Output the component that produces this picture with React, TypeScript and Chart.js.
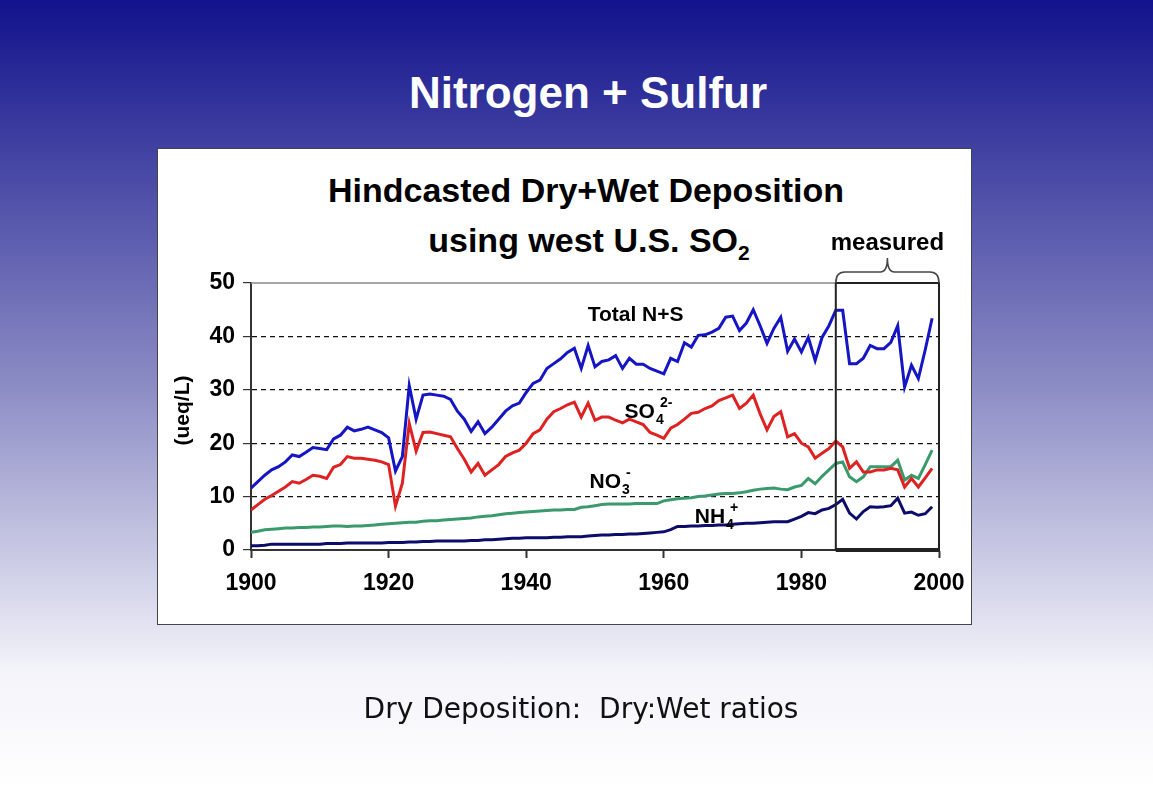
import React, { useEffect, useRef } from "react";
import { Chart, registerables } from "chart.js";

Chart.register(...registerables);

// ---------- data ----------
const years = [
  1900, 1901, 1902, 1903, 1904, 1905, 1906, 1907, 1908, 1909,
  1910, 1911, 1912, 1913, 1914, 1915, 1916, 1917, 1918, 1919,
  1920, 1921, 1922, 1923, 1924, 1925, 1926, 1927, 1928, 1929,
  1930, 1931, 1932, 1933, 1934, 1935, 1936, 1937, 1938, 1939,
  1940, 1941, 1942, 1943, 1944, 1945, 1946, 1947, 1948, 1949,
  1950, 1951, 1952, 1953, 1954, 1955, 1956, 1957, 1958, 1959,
  1960, 1961, 1962, 1963, 1964, 1965, 1966, 1967, 1968, 1969,
  1970, 1971, 1972, 1973, 1974, 1975, 1976, 1977, 1978, 1979,
  1980, 1981, 1982, 1983, 1984, 1985, 1986, 1987, 1988, 1989,
  1990, 1991, 1992, 1993, 1994, 1995, 1996, 1997, 1998, 1999,
];

const totalNS = [
  11.6, 12.8, 14.0, 15.0, 15.6, 16.5, 17.8, 17.5, 18.3, 19.2,
  19.0, 18.8, 20.8, 21.5, 23.0, 22.3, 22.6, 23.0, 22.5, 22.0,
  21.0, 14.8, 17.5, 30.8, 24.5, 29.0, 29.2, 29.0, 28.8, 28.2,
  26.0, 24.5, 22.2, 24.0, 21.8, 23.0, 24.5, 26.0, 27.0, 27.5,
  29.5, 31.2, 31.8, 34.0, 34.9, 35.8, 37.0, 37.8, 34.0, 38.3,
  34.3, 35.3, 35.6, 36.4, 34.0, 35.9, 34.8, 34.8, 34.0, 33.5,
  33.0, 35.9, 35.3, 38.8, 38.0, 40.2, 40.3, 40.8, 41.5, 43.6,
  43.8, 41.1, 42.5, 45.0, 42.0, 38.7, 41.5, 43.6, 37.2, 39.5,
  37.1, 39.8, 35.5, 39.8, 42.0, 44.9, 44.9, 34.9, 34.9, 35.9,
  38.3, 37.7, 37.7, 38.9, 42.0, 30.5, 34.6, 32.1, 37.5, 43.4,
];

const so4 = [
  7.5, 8.5, 9.5, 10.2, 11.0, 11.8, 12.8, 12.5, 13.2, 14.0,
  13.8, 13.4, 15.5, 16.0, 17.5, 17.2, 17.2, 17.0, 16.8, 16.5,
  16.0, 8.2, 12.5, 23.7, 18.5, 22.0, 22.1, 21.8, 21.5, 21.2,
  19.0, 17.0, 14.6, 16.2, 14.0, 15.0, 16.0, 17.5, 18.2, 18.7,
  20.0, 21.8, 22.5, 24.5, 25.9, 26.5, 27.2, 27.7, 24.9, 27.5,
  24.3, 24.9, 24.9, 24.3, 23.8, 24.5, 24.0, 23.5, 22.0, 21.5,
  20.9, 22.8, 23.5, 24.5, 25.6, 25.8, 26.5, 27.0, 28.0, 28.5,
  29.0, 26.5, 27.5, 29.0, 25.5, 22.5, 25.0, 25.9, 21.2, 21.8,
  20.0, 19.3, 17.2, 18.1, 19.0, 20.4, 19.3, 15.3, 16.5, 14.6,
  14.6, 15.0, 15.0, 15.3, 15.0, 11.8, 13.4, 11.8, 13.5, 15.3,
];

const no3 = [
  3.3, 3.5, 3.8, 3.9, 4.0, 4.1, 4.1, 4.2, 4.2, 4.3,
  4.3, 4.4, 4.5, 4.5, 4.4, 4.5, 4.5, 4.6, 4.7, 4.8,
  4.9, 5.0, 5.1, 5.2, 5.2, 5.4, 5.5, 5.5, 5.6, 5.7,
  5.8, 5.9, 6.0, 6.2, 6.3, 6.4, 6.6, 6.8, 6.9, 7.0,
  7.1, 7.2, 7.3, 7.4, 7.5, 7.5, 7.6, 7.6, 8.0, 8.1,
  8.3, 8.5, 8.6, 8.6, 8.6, 8.6, 8.7, 8.7, 8.7, 8.7,
  9.2, 9.4, 9.6, 9.7, 9.8, 10.0, 10.1, 10.3, 10.5, 10.6,
  10.6, 10.7, 10.9, 11.2, 11.4, 11.5, 11.6, 11.4, 11.3, 11.8,
  12.1, 13.4, 12.4, 13.8, 15.0, 16.2, 16.5, 13.7, 12.8, 13.7,
  15.6, 15.6, 15.6, 15.6, 16.8, 13.1, 14.0, 13.4, 16.0, 18.7,
];

const nh4 = [
  0.8, 0.8, 0.9, 1.1, 1.1, 1.1, 1.1, 1.1, 1.1, 1.1,
  1.1, 1.2, 1.2, 1.2, 1.3, 1.3, 1.3, 1.3, 1.3, 1.3,
  1.4, 1.4, 1.4, 1.5, 1.5, 1.6, 1.6, 1.7, 1.7, 1.7,
  1.7, 1.7, 1.8, 1.8, 1.9, 1.9, 2.0, 2.1, 2.2, 2.2,
  2.3, 2.3, 2.3, 2.3, 2.4, 2.4, 2.5, 2.5, 2.5, 2.6,
  2.7, 2.8, 2.8, 2.9, 2.9, 3.0, 3.0, 3.1, 3.2, 3.3,
  3.4, 3.8, 4.4, 4.4, 4.5, 4.5, 4.6, 4.6, 4.7, 4.7,
  4.8, 4.9, 5.0, 5.0, 5.1, 5.2, 5.3, 5.3, 5.3, 5.8,
  6.3, 7.0, 6.8, 7.5, 7.8, 8.5, 9.5, 6.9, 5.8, 7.2,
  8.1, 8.0, 8.1, 8.3, 9.7, 6.9, 7.1, 6.5, 6.8, 8.1,
];

const xMin = 1900;
const xMax = 2000;
const xStep = 20;
const yMin = 0;
const yMax = 50;
const yStep = 10;
const measuredStart = 1985;
const measuredEnd = 2000;

const pageTitle = "Nitrogen + Sulfur";
const chartTitle1 = "Hindcasted Dry+Wet Deposition";
const chartTitle2 = "using west U.S. SO";
const chartTitle2Sub = "2";
const yAxisTitle = "(ueq/L)";
const measuredLabel = "measured";
const footer = "Dry Deposition:  Dry:Wet ratios";

// series labels: text parts and anchor (year, value)
const totalLabel = { text: "Total N+S", x: 1955.9, y: 42.8 };
const so4Label = { main: "SO", sub: "4", sup: "2-", x: 1954.3, y: 24.7 };
const no3Label = { main: "NO", sub: "3", sup: "-", x: 1949.2, y: 11.6 };
const nh4Label = { main: "NH", sub: "4", sup: "+", x: 1964.5, y: 5.05 };

const toPoints = (vals: number[]) => vals.map((v, i) => ({ x: years[i], y: v }));

const FONT = '"Liberation Sans", Arial, Helvetica, sans-serif';

const overlayPlugin = {
  id: "overlay",
  afterDatasetsDraw(chart: any) {
    const { ctx, chartArea, scales } = chart;
    const xs = scales.x;
    const ys = scales.y;
    ctx.save();

    // top border of plot area
    const yTop = ys.getPixelForValue(yMax);
    const yBot = ys.getPixelForValue(yMin);
    ctx.strokeStyle = "#8a8a8a";
    ctx.lineWidth = 1.5;
    ctx.beginPath();
    ctx.moveTo(chartArea.left, yTop);
    ctx.lineTo(chartArea.right, yTop);
    ctx.stroke();

    // measured box
    const bx0 = xs.getPixelForValue(measuredStart);
    const bx1 = xs.getPixelForValue(measuredEnd);
    ctx.strokeStyle = "#222";
    ctx.lineWidth = 2;
    ctx.strokeRect(bx0, yTop, bx1 - bx0, yBot - yTop);
    ctx.lineWidth = 4;
    ctx.beginPath();
    ctx.moveTo(bx0, yBot);
    ctx.lineTo(bx1, yBot);
    ctx.stroke();

    // curly brace
    const cx = (bx0 + bx1) / 2;
    const by = yTop - 11;
    const tip = yTop - 25;
    ctx.strokeStyle = "#444";
    ctx.lineWidth = 1.6;
    ctx.beginPath();
    ctx.moveTo(bx0, yTop);
    ctx.quadraticCurveTo(bx0, by, bx0 + 9, by);
    ctx.lineTo(cx - 7, by);
    ctx.quadraticCurveTo(cx, by, cx, tip);
    ctx.quadraticCurveTo(cx, by, cx + 7, by);
    ctx.lineTo(bx1 - 9, by);
    ctx.quadraticCurveTo(bx1, by, bx1, yTop);
    ctx.stroke();

    // measured label
    ctx.fillStyle = "#000";
    ctx.font = `bold 24px ${FONT}`;
    ctx.textAlign = "center";
    ctx.textBaseline = "middle";
    ctx.fillText(measuredLabel, cx, yTop - 40);

    // Total N+S
    ctx.font = `bold 21px ${FONT}`;
    ctx.textBaseline = "alphabetic";
    ctx.fillText(totalLabel.text, xs.getPixelForValue(totalLabel.x), ys.getPixelForValue(totalLabel.y));

    // chemical labels
    const chem = (l: any) => {
      const px = xs.getPixelForValue(l.x);
      const py = ys.getPixelForValue(l.y);
      ctx.textAlign = "left";
      ctx.font = `bold 21px ${FONT}`;
      ctx.fillText(l.main, px, py);
      const w = ctx.measureText(l.main).width;
      ctx.font = `bold 14px ${FONT}`;
      ctx.fillText(l.sub, px + w + 1, py + 6);
      ctx.fillText(l.sup, px + w + 5, py - 11);
    };
    chem(so4Label);
    chem(no3Label);
    chem(nh4Label);

    // y axis title
    ctx.save();
    ctx.translate(chartArea.left - 68, (yTop + yBot) / 2 - 6);
    ctx.rotate(-Math.PI / 2);
    ctx.textAlign = "center";
    ctx.textBaseline = "middle";
    ctx.font = `bold 21px ${FONT}`;
    ctx.fillText(yAxisTitle, 0, 0);
    ctx.restore();

    ctx.restore();
  },
};

export default function App() {
  const ref = useRef<HTMLCanvasElement | null>(null);

  useEffect(() => {
    if (!ref.current) return;
    const chart = new Chart(ref.current, {
      type: "line",
      data: {
        datasets: [
          { label: "Total N+S", data: toPoints(totalNS), borderColor: "#1515c4", borderWidth: 3 },
          { label: "SO4", data: toPoints(so4), borderColor: "#de2222", borderWidth: 3 },
          { label: "NO3", data: toPoints(no3), borderColor: "#3a9a6c", borderWidth: 3 },
          { label: "NH4", data: toPoints(nh4), borderColor: "#0c0c6a", borderWidth: 3 },
        ],
      },
      options: {
        responsive: false,
        animation: false,
        events: [],
        elements: { point: { radius: 0 }, line: { tension: 0, fill: false } },
        layout: { padding: { left: 157, top: 283, right: 214, bottom: 182 } },
        plugins: { legend: { display: false }, title: { display: false }, tooltip: { enabled: false } },
        scales: {
          x: {
            type: "linear",
            min: xMin,
            max: xMax,
            ticks: {
              stepSize: xStep,
              autoSkip: false,
              maxRotation: 0,
              color: "#000",
              padding: 12,
              font: { family: FONT, size: 23, weight: "bold" },
              callback: (v: any) => String(v),
            },
            grid: { drawOnChartArea: false, tickLength: 8, tickColor: "#333", tickWidth: 2 },
            border: { color: "#333", width: 2 },
            afterFit: (s: any) => { s.height = 60; },
          },
          y: {
            min: yMin,
            max: yMax,
            ticks: {
              stepSize: yStep,
              color: "#000",
              padding: 8,
              font: { family: FONT, size: 23, weight: "bold" },
            },
            grid: {
              color: (c: any) => (c.tick && (c.tick.value === yMin || c.tick.value === yMax) ? "transparent" : "#111"),
              tickColor: "#333",
              tickLength: 8,
              lineWidth: 1.2,
            },
            border: { color: "#333", width: 2, dash: [5, 4] },
            afterFit: (s: any) => { s.width = 94; },
          },
        },
      },
      plugins: [overlayPlugin],
    } as any);
    return () => chart.destroy();
  }, []);

  return (
    <div
      style={{
        position: "absolute",
        left: 0,
        top: 0,
        width: 1153,
        height: 792,
        overflow: "hidden",
        background: "linear-gradient(to bottom, #12128c 0%, #8a8ac4 48%, #f4f4fa 85%, #ffffff 100%)",
        fontFamily: FONT,
      }}
    >
      <div
        style={{
          position: "absolute",
          left: 588,
          top: 68,
          transform: "translateX(-50%)",
          whiteSpace: "nowrap",
          color: "#fff",
          fontWeight: "bold",
          fontSize: 44,
          lineHeight: "50px",
        }}
      >
        {pageTitle}
      </div>
      <div
        style={{
          position: "absolute",
          left: 157,
          top: 148,
          width: 813,
          height: 475,
          background: "#fff",
          border: "1px solid #444",
        }}
      />
      <div
        style={{
          position: "absolute",
          left: 586,
          top: 171,
          transform: "translateX(-50%)",
          whiteSpace: "nowrap",
          color: "#000",
          fontWeight: "bold",
          fontSize: 34,
          lineHeight: "38px",
        }}
      >
        {chartTitle1}
      </div>
      <div
        style={{
          position: "absolute",
          left: 589,
          top: 221,
          transform: "translateX(-50%)",
          whiteSpace: "nowrap",
          color: "#000",
          fontWeight: "bold",
          fontSize: 34,
          lineHeight: "38px",
        }}
      >
        {chartTitle2}
        <span style={{ fontSize: 21, position: "relative", top: 8 }}>{chartTitle2Sub}</span>
      </div>
      <canvas
        ref={ref}
        width={1153}
        height={792}
        style={{ position: "absolute", left: 0, top: 0, width: 1153, height: 792 }}
      />
      <div
        style={{
          position: "absolute",
          left: 581,
          top: 692,
          transform: "translateX(-50%)",
          whiteSpace: "pre",
          color: "#111",
          fontFamily: '"Comic Sans MS", "DejaVu Sans", sans-serif',
          fontSize: 28,
          lineHeight: "34px",
        }}
      >
        {footer}
      </div>
    </div>
  );
}
